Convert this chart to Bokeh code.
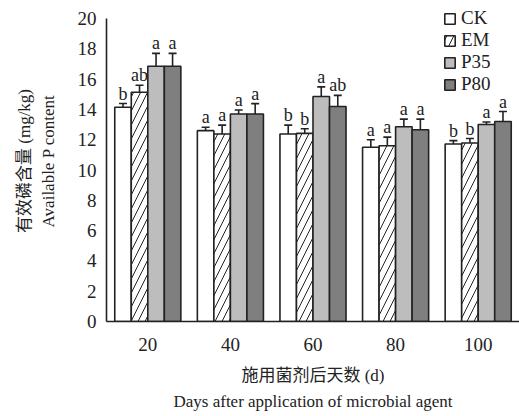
from bokeh.plotting import figure
from bokeh.models import ColumnDataSource, FixedTicker, Whisker, TeeHead, Legend, LegendItem
from bokeh.transform import dodge
from bokeh.embed import file_html
from bokeh.resources import INLINE
from bokeh.core.properties import value

days = ["20", "40", "60", "80", "100"]
treatments = ["CK", "EM", "P35", "P80"]
ck = [14.14, 12.60, 12.38, 11.50, 11.72]
ck_err = [0.25, 0.22, 0.58, 0.50, 0.22]
em = [15.13, 12.38, 12.42, 11.60, 11.78]
em_err = [0.47, 0.58, 0.30, 0.57, 0.30]
p35 = [16.85, 13.70, 14.85, 12.86, 13.00]
p35_err = [0.85, 0.26, 0.64, 0.50, 0.17]
p80 = [16.85, 13.70, 14.19, 12.66, 13.20]
p80_err = [0.85, 0.68, 0.74, 0.70, 0.66]
ck_sig = ["b", "a", "b", "a", "b"]
em_sig = ["ab", "a", "b", "a", "b"]
p35_sig = ["a", "a", "a", "a", "a"]
p80_sig = ["a", "a", "ab", "a", "a"]
y_ticks = list(range(0, 21, 2))

series = [
    ("CK", ck, ck_err, ck_sig, "white", None, -0.3),
    ("EM", em, em_err, em_sig, "white", "/", -0.1),
    ("P35", p35, p35_err, p35_sig, "#bdbdbd", None, 0.1),
    ("P80", p80, p80_err, p80_sig, "#7f7f7f", None, 0.3),
]

FONT = "'Liberation Serif', 'Noto Sans CJK SC', serif"
INK = "#222222"
centers = [i + 0.5 for i in range(len(days))]

p = figure(width=519, height=416, x_range=(0, 5), y_range=(0, 21.19),
           output_backend="svg", toolbar_location=None,
           min_border_left=106, min_border_right=0, min_border_top=0, min_border_bottom=95)
p.outline_line_color = None
p.xgrid.grid_line_color = None
p.ygrid.grid_line_color = None

items = []
for name, vals, errs, sig, color, hatch, off in series:
    src = ColumnDataSource(dict(
        x=centers, top=vals,
        upper=[v + e for v, e in zip(vals, errs)],
        lower=[v - e for v, e in zip(vals, errs)],
        sig=sig,
    ))
    kw = {}
    if hatch:
        kw = dict(hatch_pattern=hatch, hatch_scale=14, hatch_weight=1, hatch_color=INK)
    r = p.vbar(x=dodge("x", off, range=p.x_range), top="top", width=0.2, bottom=0,
               source=src, fill_color=color, line_color=INK, line_width=1.6, **kw)
    items.append(LegendItem(label=name, renderers=[r]))
    w = Whisker(base=dodge("x", off, range=p.x_range), upper="upper", lower="lower", source=src,
                line_color=INK, line_width=1.6,
                upper_head=TeeHead(size=8, line_width=1.6, line_color=INK),
                lower_head=TeeHead(size=8, line_width=1.6, line_color=INK))
    p.add_layout(w)
    p.text(x=dodge("x", off, range=p.x_range), y="upper", text="sig", source=src,
           text_align="center", text_baseline="bottom", y_offset=0,
           text_font=value(FONT), text_font_size="18px", text_color=INK)

legend = Legend(items=items, location=(337, 226), orientation="vertical",
                label_text_font=FONT, label_text_font_size="19px", label_text_color=INK,
                label_text_line_height=1.0,
                glyph_width=13, glyph_height=13, label_height=13, spacing=0,
                label_standoff=5, padding=0, margin=0,
                border_line_color=None, background_fill_alpha=0)
p.add_layout(legend)

# axes
p.xaxis.ticker = FixedTicker(ticks=centers, minor_ticks=[1, 2, 3, 4])
p.xaxis.major_label_overrides = {c: d for c, d in zip(centers, days)}
p.xaxis.minor_tick_in = 5
p.xaxis.minor_tick_out = 0
p.xaxis.minor_tick_line_width = 1.5
p.xaxis.axis_label = "施用菌剂后天数 (d)\nDays after application of microbial agent"

p.yaxis.ticker = FixedTicker(ticks=y_ticks)
p.yaxis.bounds = (y_ticks[0], y_ticks[-1])
p.yaxis.major_tick_in = 6
p.yaxis.major_tick_out = 0
p.yaxis.major_tick_line_width = 1.5
p.yaxis.axis_label = "有效磷含量 (mg/kg)\nAvailable P content"

for ax in (p.xaxis, p.yaxis):
    ax.axis_line_width = 1.6
    ax.axis_line_color = INK
    ax.major_tick_line_color = INK if ax is p.yaxis else None
    ax.minor_tick_line_color = INK if ax is p.xaxis else None
    ax.major_label_text_font = FONT
    ax.major_label_text_font_size = "19px"
    ax.major_label_text_color = INK
    ax.axis_label_text_font = FONT
    ax.axis_label_text_font_size = "17px"
    ax.axis_label_text_font_style = "normal"
    ax.axis_label_text_color = INK
p.xaxis.axis_label_text_line_height = 1.4
p.yaxis.axis_label_text_line_height = 1.25
p.xaxis.major_label_standoff = 10
p.xaxis.axis_label_standoff = 12
p.yaxis.major_label_standoff = 10
p.yaxis.axis_label_standoff = 17

open("out.html", "w").write(file_html(p, INLINE))
